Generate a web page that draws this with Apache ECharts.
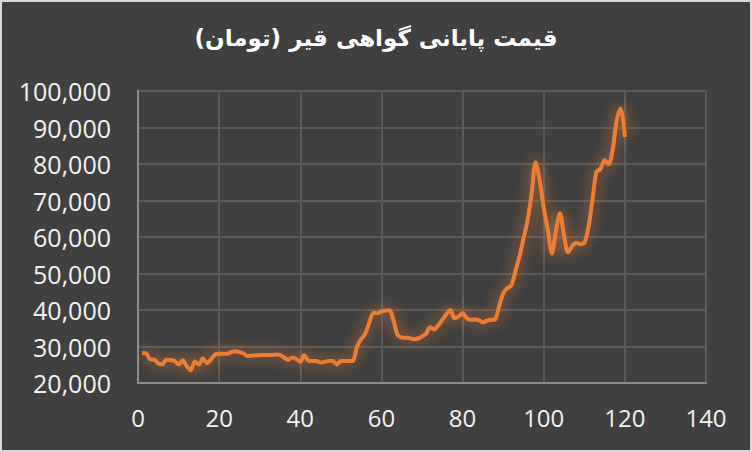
<!DOCTYPE html>
<html lang="fa">
  <head>
    <meta charset="UTF-8" />
    <script src="https://cdn.jsdelivr.net/npm/echarts@6/dist/echarts.min.js"></script>
    <title>قیمت پایانی گواهی قیر</title>
  </head>
  <body style="margin: 0; background: #404040">
    <div id="chart" style="width: 752px; height: 452px; box-sizing: border-box; border: 2px solid #d9d9d9"></div>
  </body>
</html>

<script>
  const lineColor = "#ED7D31";
  const labelColor = "#f2f2f2";

  // x runs 1..120
  const days = Array.from({ length: 120 }, (_, i) => i + 1);
  const prices = [
    28200, 28100, 26500, 26400, 25400, 25100, 26400, 26300, 26000, 25100,
    26200, 24600, 23500, 25900, 25100, 26700, 25400, 26500, 27800, 28000,
    28000, 28000, 28500, 28700, 28500, 28100, 27400, 27500, 27600, 27600,
    27700, 27700, 27700, 27800, 27700, 27000, 26300, 27000, 26600, 25800,
    27600, 26100, 26000, 26000, 25600, 25800, 26000, 26000, 25100, 26000,
    26000, 26000, 26100, 30000, 32000, 33500, 36500, 39200, 39100, 39600,
    39800, 39900, 37000, 33100, 32500, 32400, 32300, 32000, 32200, 32700,
    33500, 35300, 34700, 35800, 37300, 38800, 40000, 37800, 38200, 39200,
    37800, 37300, 37400, 37200, 36600, 37100, 37300, 37400, 41000, 44500,
    46000, 46700, 50500, 54500, 59500, 64500, 71500, 80500, 75500, 68000,
    62000, 55500, 61500, 66500, 60500, 55800, 57500, 58400, 58100, 58400,
    62500, 70000, 77800, 78700, 81000, 79900, 84000, 92000, 95200, 87400,
  ];

  const chart = echarts.init(document.getElementById("chart"), null, { renderer: "svg" });

  const options = {
    backgroundColor: "#404040",
    animation: false,
    title: {
      text: "قیمت پایانی گواهی قیر (تومان)",
      left: "center",
      top: 19,
      textStyle: {
        color: "#ffffff",
        fontFamily: "DejaVu Sans",
        fontWeight: "bold",
        fontSize: 23,
      },
    },
    grid: { left: 136, right: 44, top: 89, bottom: 67 },
    xAxis: {
      type: "value",
      min: 0,
      max: 140,
      interval: 20,
      axisLine: { lineStyle: { color: "#8c8c8c", width: 2 } },
      axisTick: { show: false },
      splitLine: { lineStyle: { color: "#5a5a5a", width: 2 } },
      axisLabel: { color: labelColor, fontFamily: "Open Sans", fontSize: 24, margin: 22 },
    },
    yAxis: {
      type: "value",
      min: 20000,
      max: 100000,
      interval: 10000,
      axisLine: { show: true, lineStyle: { color: "#8c8c8c", width: 2 } },
      axisTick: { show: false },
      splitLine: { lineStyle: { color: "#5a5a5a", width: 2 } },
      axisLabel: {
        color: labelColor,
        fontFamily: "Open Sans",
        fontSize: 25,
        margin: 27,
        formatter: (v) => v.toLocaleString("en-US"),
      },
    },
    series: [
      {
        type: "line",
        data: days.map((d, i) => [d, prices[i]]),
        smooth: 0.3,
        showSymbol: false,
        lineStyle: {
          color: lineColor,
          width: 4,
          shadowColor: "rgba(237,125,49,0.8)",
          shadowBlur: 14,
        },
      },
    ],
  };
  chart.setOption(options);
</script>
